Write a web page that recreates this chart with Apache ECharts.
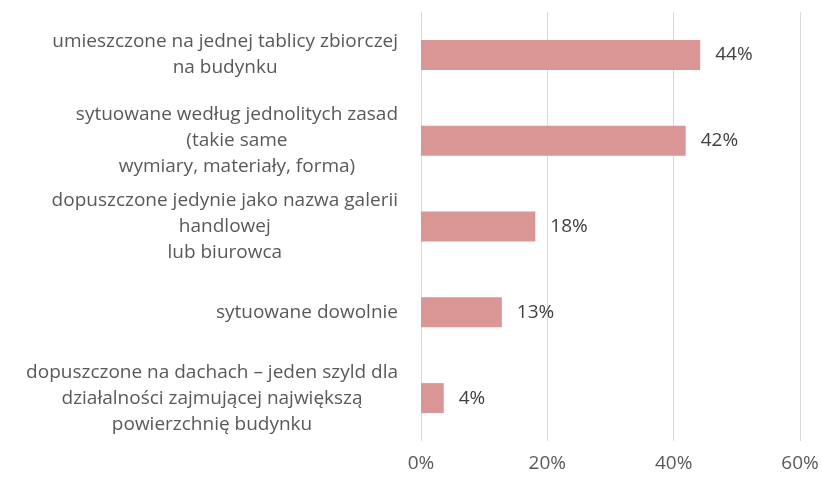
<!DOCTYPE html>
<html>
<head>
<meta charset="utf-8">
<script src="https://cdn.jsdelivr.net/npm/echarts@6/dist/echarts.min.js"></script>
<style>
html, body { margin: 0; padding: 0; background: #fff; }
#chart { width: 823px; height: 479px; }
</style>
</head>
<body>
<div id="chart"></div>
<script>
// dane
var categories = [
	'umieszczone na jednej tablicy zbiorczej\nna budynku',
	'sytuowane według jednolitych zasad\n(takie same\nwymiary, materiały, forma)',
	'dopuszczone jedynie jako nazwa galerii\nhandlowej\nlub biurowca',
	'sytuowane dowolnie',
	'dopuszczone na dachach – jeden szyld dla\ndziałalności zajmującej największą\npowierzchnię budynku'
];
var values = [44.2, 41.9, 18.1, 12.8, 3.6];
var xTicks = [0, 20, 40, 60];

var chart = echarts.init(document.getElementById('chart'));
chart.setOption({
	animation: false,
	textStyle: { fontFamily: 'Open Sans' },
	grid: { left: 421, right: 23, top: 12, bottom: 38 },
	xAxis: {
		type: 'value',
		min: xTicks[0],
		max: xTicks[xTicks.length - 1],
		interval: 20,
		axisLine: { show: false },
		axisTick: { show: false },
		splitLine: { lineStyle: { color: '#d9d9d9', width: 1 } },
		axisLabel: {
			margin: 13,
			color: '#595959',
			fontSize: 19,
			formatter: '{value}%'
		}
	},
	yAxis: {
		type: 'category',
		inverse: true,
		data: categories,
		axisLine: { show: false },
		axisTick: { show: false },
		axisLabel: {
			margin: 23,
			formatter: function (v) {
				return v.split('\n').map(function (l) { return '{c|' + l + '}'; }).join('\n');
			},
			rich: {
				c: { align: 'center', color: '#595959', fontSize: 19, lineHeight: 26, fontFamily: 'Open Sans' }
			}
		}
	},
	series: [{
		type: 'bar',
		data: values,
		barWidth: 30,
		itemStyle: { color: '#d99694' },
		label: {
			show: true,
			position: 'right',
			distance: 15,
			color: '#404040',
			fontSize: 19,
			formatter: function (p) { return Math.round(p.value) + '%'; }
		}
	}]
});
</script>
</body>
</html>
